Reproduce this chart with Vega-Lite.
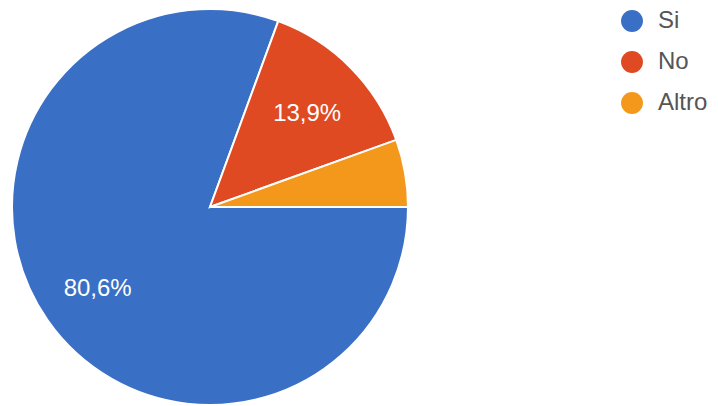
{
  "$schema": "https://vega.github.io/schema/vega-lite/v6.json",
  "width": 420,
  "height": 414,
  "padding": {"left": 0, "top": 0, "right": 298, "bottom": 0},
  "autosize": {"type": "none"},
  "background": "white",
  "config": {"view": {"stroke": null}, "font": "Arial, Liberation Sans, sans-serif"},
  "data": {
    "values": [
      {"risposta": "Si", "percentuale": 80.6, "ord": 1, "etichetta": "80,6%"},
      {"risposta": "No", "percentuale": 13.9, "ord": 2, "etichetta": "13,9%"},
      {"risposta": "Altro", "percentuale": 5.5, "ord": 3, "etichetta": ""}
    ]
  },
  "encoding": {
    "theta": {"field": "percentuale", "type": "quantitative", "stack": true, "scale": {"range": [1.5707963, 7.8539816]}},
    "order": {"field": "ord", "type": "quantitative"},
    "color": {
      "field": "risposta",
      "type": "nominal",
      "sort": ["Si", "No", "Altro"],
      "scale": {"domain": ["Si", "No", "Altro"], "range": ["#3a6fc6", "#e04a22", "#f4981c"]},
      "legend": {
        "title": null,
        "orient": "none",
        "legendX": 620,
        "legendY": 9,
        "padding": 0,
        "symbolType": "circle",
        "symbolSize": 480,
        "symbolStrokeWidth": 0,
        "labelFontSize": 24,
        "labelColor": "#555555",
        "labelOffset": 14,
        "rowPadding": 17
      }
    }
  },
  "layer": [
    {"mark": {"type": "arc", "outerRadius": 198, "stroke": "white", "strokeWidth": 2}},
    {
      "mark": {"type": "text", "radius": 137, "fontSize": 24, "fill": "white", "dy": 4},
      "encoding": {"text": {"field": "etichetta", "type": "nominal"}, "color": {"value": "white"}}
    }
  ]
}
